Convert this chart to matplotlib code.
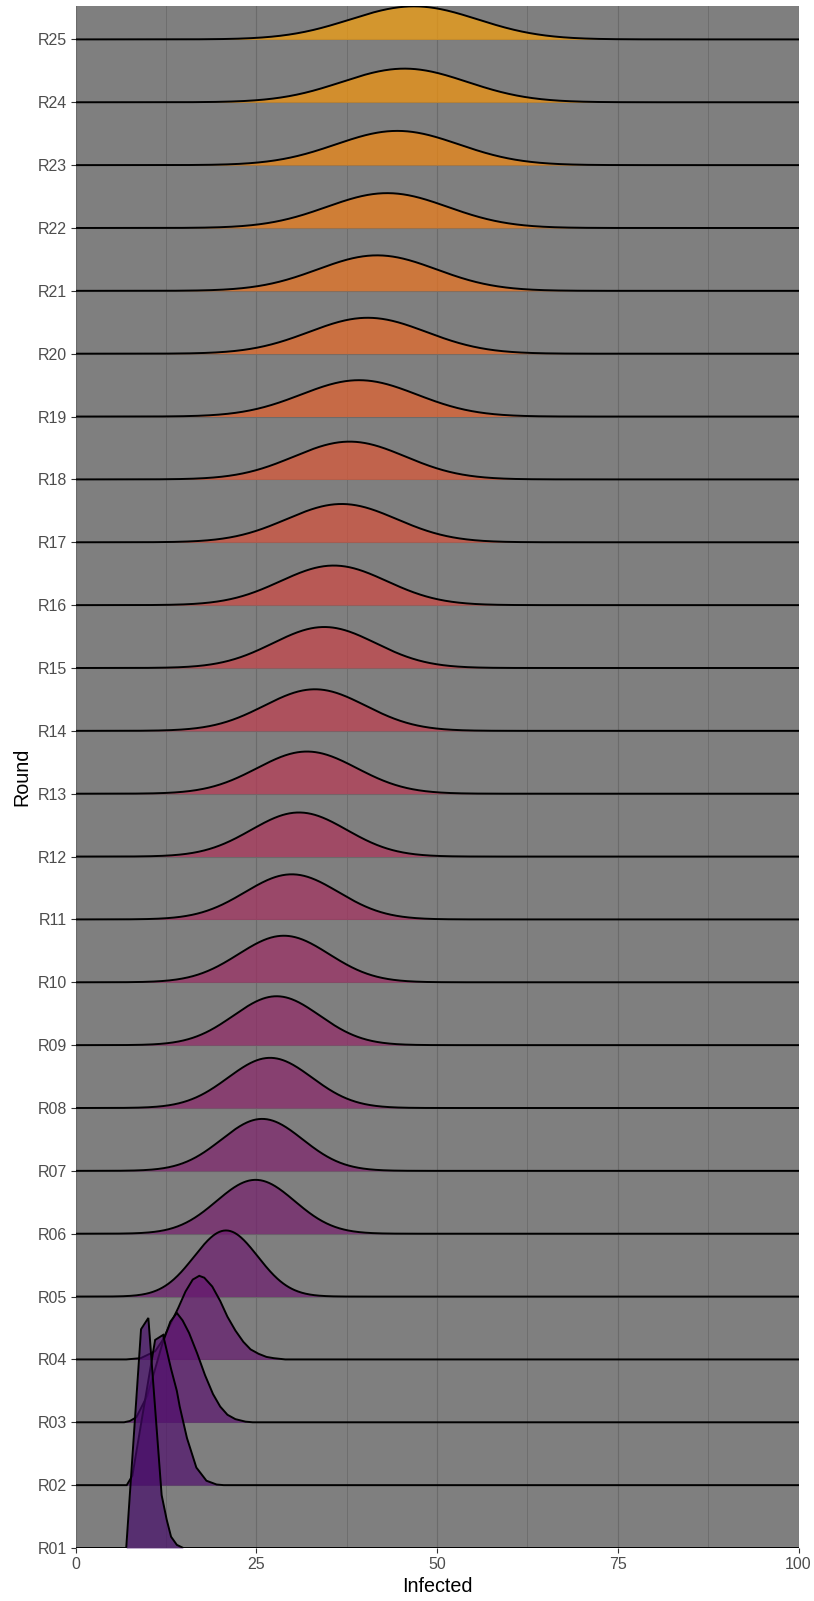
""" Ridgeline plot of infected counts per round """
import matplotlib.pyplot as plt
import numpy as np

plt.rcParams['font.family'] = ['Liberation Sans', 'DejaVu Sans']

rounds = ["R%02d" % i for i in range(1, 26)]

# first four rounds are lopsided, so read the outline point by point
# (x = infected, h = ridge height in row units)
r01_x = [7.0, 9.05, 10.06, 11.9, 12.6, 13.2, 14.0, 14.9]
r01_h = [0, 3.48, 3.66, 0.84, 0.45, 0.18, 0.05, 0]

r02_x = [7.07, 7.85, 11.0, 12.1, 13.2, 14.0, 14.4, 15.4, 16.7, 18.1, 19.5, 20.5]
r02_h = [0, 0.15, 2.31, 2.39, 1.85, 1.5, 1.25, 0.75, 0.28, 0.07, 0.01, 0]

r03_x = [6.7, 7.5, 8.4, 9.9, 11.0, 12.0, 13.1, 14.0, 14.8, 15.7, 16.8, 17.9, 19.0, 20.0, 21.0, 22.1, 23.5, 24.5]
r03_h = [0, 0.02, 0.08, 0.42, 0.85, 1.25, 1.6, 1.74, 1.62, 1.42, 1.1, 0.75, 0.45, 0.25, 0.12, 0.05, 0.01, 0]

r04_x = [7.0, 9.0, 11.0, 12.0, 13.1, 14.2, 15.2, 16.2, 17.1, 17.8, 18.9, 20.0, 21.0, 22.1, 23.2, 24.2, 25.3, 26.4, 27.4, 29.0]
r04_h = [0, 0.02, 0.13, 0.3, 0.56, 0.82, 1.08, 1.27, 1.33, 1.30, 1.16, 0.93, 0.68, 0.46, 0.28, 0.16, 0.09, 0.04, 0.02, 0]

early_x = [r01_x, r02_x, r03_x, r04_x]
early_h = [r01_h, r02_h, r03_h, r04_h]

# R05..R25 look like plain bell curves: centre and spread
late_mean = [20.8, 24.9, 25.8, 26.9, 27.8, 28.8, 29.9, 30.9, 32.0, 33.1, 34.4,
             35.7, 36.8, 37.9, 39.2, 40.4, 41.7, 43.1, 44.5, 45.5, 46.8]
late_sd = [4.4, 5.4, 5.6, 5.8, 5.95, 6.25, 6.45, 6.6, 6.9, 7.0, 7.1,
           7.35, 7.6, 7.7, 8.0, 8.1, 8.2, 8.35, 8.5, 8.65, 8.8]

SCALE = 11.6  # ridge scale (row units * x units)

fig = plt.figure(figsize=(8.14, 16.01), dpi=100)
ax = fig.add_axes([0.0929, 0.0331, 0.8881, 0.9631])
ax.set_facecolor("#7F7F7F")

cols = plt.get_cmap("inferno")(np.linspace(0.21, 0.79, len(rounds)))
xs = np.linspace(0, 100, 1001)

for i, name in enumerate(rounds):
    base = i + 1
    if i < len(early_x):
        x = np.array([0] + early_x[i] + [100])
        h = np.array([0] + early_h[i] + [0])
    else:
        m = late_mean[i - len(early_x)]
        s = late_sd[i - len(early_x)]
        x = xs
        h = SCALE * np.exp(-0.5 * ((xs - m) / s) ** 2) / (s * np.sqrt(2 * np.pi))
    z = 100 - 2 * i
    ax.fill_between(x, base, base + h, color=cols[i], alpha=0.68, lw=0, zorder=z)
    ax.plot(x, base + h, color="black", lw=1.4, zorder=z + 1, solid_joinstyle="miter")

ax.set_xlim(0, 100)
ax.set_ylim(1, 25.53)
ax.set_xticks([0, 25, 50, 75, 100])
ax.set_xticks([12.5, 37.5, 62.5, 87.5], minor=True)
ax.set_yticks(range(1, len(rounds) + 1))
ax.set_yticklabels(rounds)

ax.set_axisbelow(True)
ax.grid(which="major", color="#6B6B6B", lw=0.8)
ax.grid(which="minor", axis="x", color="#6B6B6B", lw=0.6)
for sp in ax.spines.values():
    sp.set_visible(False)

ax.tick_params(which="major", length=3.5, width=0.8, color="#333333",
               labelcolor="#4D4D4D", labelsize=11.5, pad=2.9)
ax.tick_params(which="minor", length=0)

ax.set_xlabel("Infected", fontsize=14.2, labelpad=4)
ax.set_ylabel("Round", fontsize=14.2, labelpad=4)

fig.savefig("out.png", dpi=100)
